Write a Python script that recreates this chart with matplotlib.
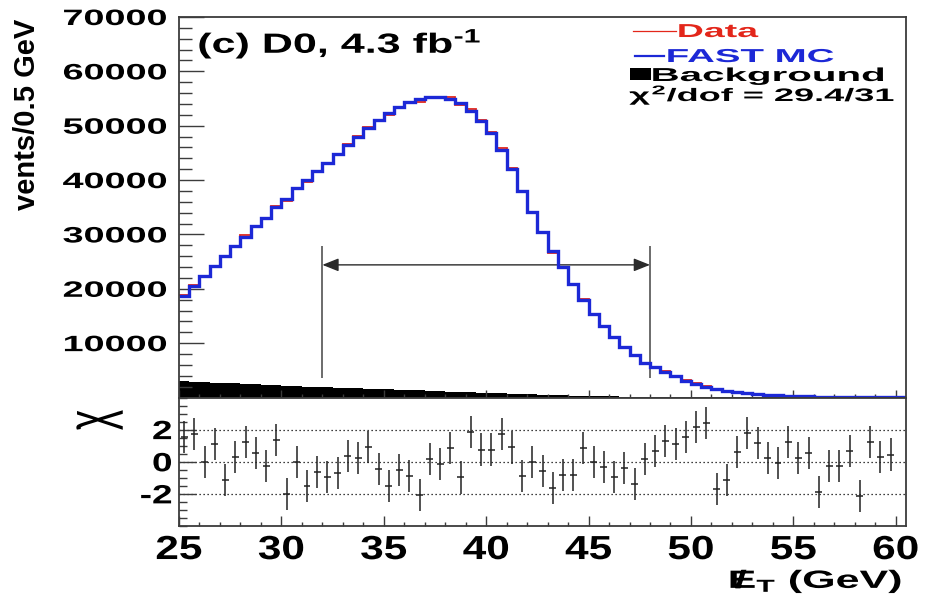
import numpy as np
import matplotlib
matplotlib.use('Agg')
import matplotlib.pyplot as plt
from matplotlib.patheffects import AbstractPathEffect
from matplotlib.transforms import Affine2D
from matplotlib.ticker import MultipleLocator
from matplotlib.patches import Rectangle

# ---- data ----
met_edges = np.arange(25.0, 60.51, 0.5)   # 0.5 GeV bins, 25 - 60.5 GeV

fast_mc = [18700, 20500, 22300, 24100, 26000, 27800, 29600, 31500, 33100, 35000,
           36600, 38500, 40000, 41600, 43200, 44800, 46500, 48000, 49600, 51100,
           52400, 53500, 54300, 54900, 55300, 55300, 55000, 54100, 52700, 50900,
           48600, 45600, 42000, 38000, 34100, 30400, 26900, 24000, 20800, 18000,
           15400, 13100, 11100, 9300, 7900, 6400, 5600, 4700, 3900, 3100,
           2500, 2000, 1600, 1200, 950, 750, 600, 480, 380, 300,
           240, 190, 150, 120, 100, 80, 70, 60, 50, 40, 30]

data_counts = [18910, 20750, 22300, 24280, 25820, 27850, 29810, 31590, 33050, 35250,
               36220, 38500, 39700, 41470, 43000, 44650, 46580, 48060, 49810, 51000,
               52060, 53380, 54100, 54420, 55340, 55270, 55200, 53870, 53120, 51070,
               48770, 45970, 42180, 37830, 34100, 30300, 26630, 23870, 20680, 18120,
               15400, 13060, 11000, 9260, 7780, 6410, 5650, 4790, 3970, 3190,
               2610, 2110, 1530, 1160, 970, 800, 630, 485, 380, 320,
               245, 197, 127, 117, 97, 86, 52, 69, 52, 43, 30]

background = [3000, 2920, 2830, 2750, 2660, 2580, 2490, 2410, 2320, 2240,
              2150, 2080, 2010, 1940, 1870, 1800, 1730, 1660, 1600, 1550,
              1500, 1430, 1360, 1290, 1220, 1150, 1080, 1010, 950, 900,
              850, 780, 710, 640, 580, 520, 460, 410, 360, 320,
              280, 240, 210, 180, 150, 130, 110, 95, 80, 70,
              60, 52, 45, 38, 32, 27, 23, 20, 18, 16,
              14, 12, 11, 10, 9, 8, 7, 6, 5, 5, 4]

pull = [1.54, 1.75, 0.0, 1.13, -1.13, 0.31, 1.23, 0.52, -0.26, 1.34,
        -1.99, 0.0, -1.5, -0.62, -0.96, -0.72, 0.35, 0.25, 0.92, -0.45,
        -1.5, -0.51, -0.88, -2.05, 0.15, -0.14, 0.86, -0.98, 1.85, 0.76,
        0.76, 1.75, 0.89, -0.86, 0.0, -0.55, -1.64, -0.82, -0.82, 0.86,
        0.0, -0.35, -0.96, -0.41, -1.39, 0.15, 0.66, 1.27, 1.09, 1.54,
        2.15, 2.4, -1.68, -1.13, 0.58, 1.81, 1.19, 0.21, -0.06, 1.23,
        0.25, 0.52, -1.9, -0.25, -0.25, 0.66, -2.11, 1.23, 0.31, 0.45]
pull_centers = met_edges[:len(pull)] + 0.25

window = [32.0, 48.0]
pull_refs = [-2, 0, 2]
x_ticks = [25, 30, 35, 40, 45, 50, 55, 60]
y_ticks = [10000, 20000, 30000, 40000, 50000, 60000, 70000]
pull_ticks = [-2, 0, 2]

RED = '#e3261a'
BLUE = '#1c28d6'
FRAME = '#3c3c3c'


class Stretch(AbstractPathEffect):
    """Widen the glyphs of a text around an anchor point of its ink box."""

    def __init__(self, sx=1.0, sy=1.0, ax=0.5, ay=0.5):
        super().__init__()
        self.sx, self.sy, self.ax, self.ay = sx, sy, ax, ay

    def draw_path(self, renderer, gc, tpath, affine, rgbFace=None):
        bb = tpath.get_extents(affine)
        px = bb.x0 + self.ax * bb.width
        py = bb.y0 + self.ay * bb.height
        extra = Affine2D().translate(-px, -py).scale(self.sx, self.sy).translate(px, py)
        renderer.draw_path(gc, tpath, affine + extra, rgbFace)


plt.rcParams['font.family'] = ['Liberation Sans', 'DejaVu Sans']
plt.rcParams['font.weight'] = 'bold'
plt.rcParams['axes.unicode_minus'] = False
plt.rcParams['mathtext.fontset'] = 'custom'
plt.rcParams['mathtext.rm'] = 'Liberation Sans:bold'
plt.rcParams['mathtext.it'] = 'Liberation Sans:bold'
plt.rcParams['mathtext.bf'] = 'Liberation Sans:bold'
plt.rcParams['mathtext.sf'] = 'Liberation Sans:bold'

W, H = 934, 603
fig = plt.figure(figsize=(W / 100, H / 100), dpi=100)
ax = fig.add_axes([179 / W, 1 - 397.5 / H, 727 / W, 380.5 / H])
axp = fig.add_axes([179 / W, 1 - 526 / H, 727 / W, 128.5 / H], sharex=ax)

# ---- upper panel ----
ax.stairs(background, met_edges, fill=True, color='black', lw=0, zorder=1)
ax.stairs(data_counts, met_edges, baseline=None, color=RED, lw=1.3, zorder=3)
ax.stairs(fast_mc, met_edges, baseline=None, color=BLUE, lw=2.4, zorder=4)

ax.vlines(window, 3600, 27800, color='#444444', lw=1.1, zorder=2)
ax.annotate('', xy=(window[0], 24400), xytext=(window[1], 24400),
            arrowprops=dict(arrowstyle='<|-|>,head_length=0.55,head_width=0.22',
                            mutation_scale=18, color='#2a2a2a', lw=1.0,
                            shrinkA=0, shrinkB=0), zorder=2)

ax.set_xlim(25, 60.5)
ax.set_ylim(0, 70000)
ax.set_yticks(y_ticks)
ax.yaxis.set_minor_locator(MultipleLocator(2000))
ax.xaxis.set_major_locator(MultipleLocator(5))
ax.xaxis.set_minor_locator(MultipleLocator(1))
ax.tick_params(axis='y', which='major', direction='in', length=18, width=1,
               labelsize=16, pad=8.6, colors=FRAME, labelcolor='black')
ax.tick_params(axis='y', which='minor', direction='in', length=9.4, width=1, colors=FRAME)
ax.tick_params(axis='x', which='major', direction='in', length=6, width=1,
               labelbottom=False, colors=FRAME)
ax.tick_params(axis='x', which='minor', direction='in', length=3, width=1, colors=FRAME)
for lbl in ax.get_yticklabels():
    lbl.set_path_effects([Stretch(1.7, 1.0, 1.0, 0.5)])

# legend, drawn by hand in axes fractions
ax.plot([0.6245, 0.6836], [0.9632, 0.9632], color=RED, lw=0.9, transform=ax.transAxes)
ax.plot([0.6272, 0.6671], [0.8975, 0.8975], color=BLUE, lw=1.6, transform=ax.transAxes)
ax.add_patch(Rectangle((0.6204, 0.8344), 0.0289, 0.0315, color='black',
                       transform=ax.transAxes, lw=0))
leg_texts = [(0.6864, 0.9474, 'Data', RED, 2.0),
             (0.6713, 0.8817, 'FAST MC', BLUE, 2.05),
             (0.6506, 0.8318, 'Background', 'black', 2.15)]
for x, y, s, c, sx in leg_texts:
    ax.text(x, y, s, color=c, fontsize=13.5, ha='left', va='baseline',
            transform=ax.transAxes, path_effects=[Stretch(sx, 1.0, 0.0, 0.0)])
ax.text(0.9849, 0.7792, r'$\chi^{2}$/dof = 29.4/31', fontsize=13, ha='right',
        va='baseline', transform=ax.transAxes, path_effects=[Stretch(2.0, 1.0, 1.0, 0.0)])

fig.text(198 / W, 1 - 53 / H, r'(c) D0, 4.3 fb$^{\text{-}1}$', fontsize=20, ha='left',
         va='baseline', path_effects=[Stretch(1.55, 1.0, 0.0, 0.0)])

fig.text(27.5 / W, 1 - 114 / H, 'vents/0.5 GeV', rotation=90, fontsize=21,
         ha='center', va='center')

# ---- pull panel ----
for r in pull_refs:
    axp.axhline(r, color='black', lw=0.9, ls=(0, (1, 2.2)), zorder=1)
axp.errorbar(pull_centers, pull, yerr=1.0, xerr=0.17, fmt='none',
             ecolor='#222222', elinewidth=1.1, capsize=0, zorder=3)
axp.set_ylim(-4, 4)
axp.set_yticks(pull_ticks)
axp.yaxis.set_minor_locator(MultipleLocator(0.5))
axp.set_xticks(x_ticks)
axp.xaxis.set_minor_locator(MultipleLocator(1))
axp.tick_params(axis='y', which='major', direction='in', length=12, width=1,
                labelsize=19, pad=5, colors=FRAME, labelcolor='black')
axp.tick_params(axis='y', which='minor', direction='in', length=5.8, width=1, colors=FRAME)
axp.tick_params(axis='x', which='major', direction='in', length=7, width=1,
                labelsize=24, pad=6.5, colors=FRAME, labelcolor='black')
axp.tick_params(axis='x', which='minor', direction='in', length=3, width=1, colors=FRAME)
for lbl in axp.get_yticklabels():
    lbl.set_path_effects([Stretch(1.4, 1.0, 1.0, 0.5)])
for lbl in axp.get_xticklabels():
    lbl.set_path_effects([Stretch(1.27, 1.0, 0.5, 1.0)])

fig.text(96 / W, 1 - 420 / H, 'χ', rotation=90, fontsize=28, fontweight='normal',
         ha='center', va='center', path_effects=[Stretch(1.6, 1.0, 0.5, 0.5)])

fig.text(905 / W, 1 - 588 / H, r'$/\!\!\!E_{T}$ (GeV)', fontsize=18, ha='right',
         va='baseline', path_effects=[Stretch(1.72, 1.0, 1.0, 0.0)])

for a in (ax, axp):
    for sp in a.spines.values():
        sp.set_color(FRAME)
        sp.set_linewidth(1.3)
        sp.set_zorder(5)

fig.savefig('out.png', dpi=100)
